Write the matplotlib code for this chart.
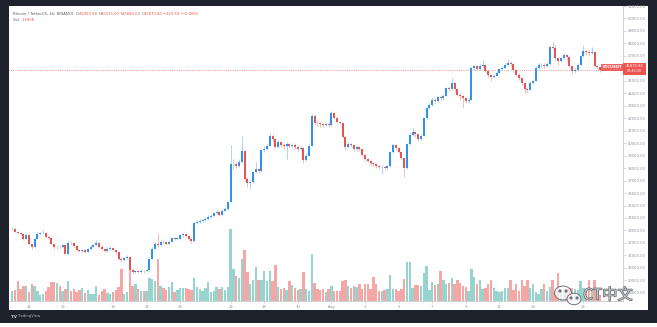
import matplotlib
matplotlib.use("Agg")
import matplotlib.pyplot as plt
from matplotlib.patches import Rectangle, Ellipse, Circle
import matplotlib.patheffects as pe
import numpy as np

# ---------------- data: BTC/USDT 4h candles, Jul 13 - Aug 17 ----------------
first_open = 33090
closes = [
    33120, 32900, 32800, 32700, 32350, 32650, 31900, 31650, 32350, 32750,
    32780, 32820, 32500, 32400, 31900, 31650, 31700, 31650, 31850, 31150,
    32000, 31980, 31750, 31450, 31350, 31400, 31300, 31500, 31700, 31850,
    32000, 31700, 31500, 31350, 31550, 31600, 31450, 31250, 30700, 30650,
    30800, 30900, 29850, 29650, 29750, 29700, 29780, 29720, 29800, 30750,
    31550, 31950, 31800, 32100, 32050, 31950, 32100, 32400, 32350, 32350,
    32600, 32700, 32550, 32350, 32150, 33600, 33700, 33750, 33800, 33950,
    34050, 34150, 34400, 34500, 34250, 34600, 34700, 35300, 38300, 38350,
    38200, 38500, 39350, 37150, 36800, 36900, 37650, 37900, 37750, 39450,
    39550, 39800, 40600, 40300, 39700, 40100, 39850, 39750, 39900, 39800,
    39850, 39700, 39550, 39650, 38650, 39000, 39800, 42200, 41650, 41600,
    41500, 41450, 41500, 41450, 42450, 42000, 41700, 41600, 40500, 39700,
    39950, 39850, 39500, 39700, 39500, 39050, 38700, 38600, 38400, 38300,
    38200, 38050, 38100, 38000, 38150, 39300, 39850, 39600, 39300, 38800,
    38000, 39900, 40650, 40900, 40700, 40300, 40600, 42000, 42800, 43100,
    43450, 43400, 43700, 43600, 43800, 44400, 44350, 44800, 44350, 43900,
    43750, 43600, 43400, 43500, 46000, 46150, 45950, 46200, 46300, 45800,
    45450, 45300, 45400, 45650, 45950, 46050, 46300, 46400, 46350, 45900,
    45500, 45200, 44850, 44350, 44300, 44850, 45000, 46050, 46250, 46300,
    46200, 46350, 47750, 47650, 46850, 46600, 46850, 47050, 46900, 46200,
    45800, 45900, 46300, 47000, 47400, 47300, 47200, 47350, 46200, 46093.58,
    45870.80,
]
highs = [
    33300, 33200, 32980, 32900, 32750, 32700, 32720, 31950, 32400, 32850,
    32900, 33000, 32850, 32600, 32450, 31950, 31850, 31800, 31950, 31900,
    32150, 32150, 32050, 31800, 31550, 31500, 31480, 31600, 31800, 31950,
    32200, 32050, 31800, 31600, 31650, 31750, 31650, 31500, 31300, 30850,
    30900, 31000, 30950, 29950, 29850, 29850, 29900, 29850, 29900, 30850,
    31650, 32050, 32800, 32250, 32200, 32150, 32250, 32500, 32500, 32450,
    32750, 32800, 32800, 32600, 32400, 33700, 33850, 33900, 33950, 34050,
    34200, 34300, 34500, 34650, 34550, 34700, 34850, 35400, 39860, 38700,
    38500, 38700, 40600, 39450, 37300, 37100, 37800, 38500, 38000, 39550,
    39750, 39950, 40850, 40750, 40400, 40250, 40200, 40000, 40100, 40050,
    40000, 40000, 39850, 39800, 39700, 39150, 39900, 42300, 42300, 41850,
    41700, 41600, 41650, 41700, 42600, 42500, 42100, 41800, 41650, 40550,
    40100, 40050, 39900, 39800, 39800, 39550, 39100, 38850, 38650, 38500,
    38400, 38250, 38250, 38200, 38250, 39400, 39950, 39900, 39650, 39350,
    38850, 40000, 40800, 41200, 41000, 40750, 40700, 42100, 42900, 43250,
    43600, 43650, 43800, 43900, 43950, 44500, 44600, 45230, 44850, 44400,
    44000, 43850, 43700, 43650, 46100, 46300, 46250, 46350, 46650, 46350,
    45850, 45550, 45550, 45750, 46050, 46200, 46400, 46750, 46550, 46400,
    45950, 45600, 45250, 44900, 44500, 44950, 45100, 46150, 46400, 46450,
    46400, 46500, 47850, 48150, 47900, 46950, 46950, 47200, 47150, 46950,
    46250, 46000, 46400, 47100, 47850, 47500, 47450, 47700, 47400, 46250,
    46115.00,
]
lows = [
    33000, 32850, 32700, 32600, 32250, 32300, 31800, 31550, 31600, 32300,
    32650, 32700, 32400, 32300, 31800, 31550, 31550, 31500, 31600, 31100,
    31100, 31850, 31650, 31350, 31250, 31250, 31200, 31250, 31450, 31650,
    31800, 31600, 31400, 31250, 31300, 31450, 31350, 31150, 30600, 30500,
    30550, 30700, 29700, 29500, 29550, 29550, 29600, 29550, 29650, 29750,
    30700, 31500, 31700, 31750, 31900, 31850, 31900, 32050, 32250, 32200,
    32300, 32500, 32450, 32250, 32000, 32100, 33500, 33600, 33650, 33750,
    33850, 34000, 34100, 34300, 34150, 34200, 34550, 34650, 35250, 37900,
    38000, 38100, 38400, 37000, 36500, 36350, 36800, 37600, 37600, 37700,
    39300, 39450, 39750, 40100, 39550, 39600, 39700, 39500, 38750, 39600,
    39650, 39550, 39400, 39400, 38400, 38550, 38950, 39750, 41500, 41400,
    41300, 41300, 41350, 41300, 41400, 41900, 41600, 41500, 40400, 39450,
    39600, 39700, 39400, 39400, 39350, 38950, 38600, 38450, 38200, 38150,
    38000, 37950, 37550, 37900, 37950, 38100, 39250, 39450, 39200, 38700,
    37300, 37950, 39850, 40600, 40500, 40200, 40250, 40550, 41950, 42700,
    43000, 43250, 43300, 43450, 43500, 43750, 44200, 44300, 44200, 43750,
    43500, 42850, 43200, 43250, 43450, 45850, 45800, 45900, 46100, 45700,
    45300, 45000, 45200, 45350, 45600, 45850, 46000, 46200, 46200, 45800,
    45400, 45100, 44700, 44050, 44100, 44250, 44750, 44950, 45950, 46100,
    46050, 46100, 46300, 47450, 46700, 46300, 46500, 46750, 46700, 46100,
    45550, 45600, 45800, 46250, 46950, 47100, 47000, 47150, 46100, 45950,
    45680.00,
]
volumes = [  # thousand BTC per 4h candle
    7.0, 7.7, 14.0, 8.4, 10.5, 10.5, 6.3, 11.9, 10.5, 7.0,
    4.2, 4.9, 7.0, 9.8, 13.3, 13.3, 12.6, 10.5, 7.0, 8.4,
    14.0, 7.0, 8.4, 6.3, 7.7, 9.1, 5.6, 7.7, 4.9, 4.9,
    10.5, 4.2, 7.0, 8.4, 5.6, 4.9, 6.3, 7.7, 9.8, 22.4,
    4.9, 6.3, 29.4, 10.5, 11.9, 8.4, 7.0, 7.0, 7.0, 16.1,
    15.4, 14.0, 29.4, 10.5, 9.1, 7.7, 9.8, 13.3, 6.3, 7.7,
    9.1, 9.1, 9.1, 8.4, 7.7, 16.1, 9.8, 8.4, 7.0, 9.1,
    13.3, 6.3, 7.0, 9.8, 8.4, 9.8, 7.7, 9.8, 50.4, 22.4,
    17.5, 16.1, 29.4, 35.7, 20.3, 11.9, 14.7, 23.8, 14.7, 14.7,
    21.0, 14.0, 21.0, 14.0, 25.2, 9.8, 8.4, 9.1, 7.7, 14.0,
    11.2, 9.1, 7.7, 8.4, 20.3, 8.4, 7.0, 32.9, 12.6, 8.4,
    7.7, 8.4, 6.3, 8.4, 10.5, 7.0, 7.0, 7.0, 14.0, 14.7,
    10.5, 9.1, 10.5, 9.8, 11.9, 8.4, 11.9, 11.9, 8.4, 16.8,
    11.9, 7.0, 7.0, 7.7, 8.4, 18.2, 8.4, 8.4, 7.0, 8.4,
    15.4, 27.3, 27.3, 9.1, 11.2, 11.2, 10.5, 19.6, 24.5, 7.7,
    13.3, 11.2, 11.9, 21.0, 14.7, 11.9, 12.6, 16.1, 11.9, 14.7,
    12.6, 10.5, 9.8, 7.0, 22.4, 16.8, 11.9, 14.7, 8.4, 9.1,
    11.9, 14.7, 9.1, 7.0, 6.3, 7.0, 9.1, 9.1, 14.7, 7.7,
    11.9, 7.0, 14.7, 10.5, 14.7, 9.1, 11.9, 6.3, 4.9, 8.4,
    11.9, 7.0, 9.8, 14.7, 7.0, 19.6, 8.4, 7.0, 8.4, 9.1,
    9.1, 8.4, 7.7, 14.0, 9.1, 8.4, 14.7, 7.7, 14.7, 7.7,
    4.2,
]
price_ticks = list(range(28000, 52000, 1000))
date_ticks = [6, 18, 36, 48, 60, 78, 90, 102, 114, 126, 138, 150, 162, 174, 186, 204]
date_labels = ["14", "16", "19", "21", "23", "26", "28", "30", "Aug",
               "3", "5", "7", "9", "11", "13", "16"]
last_price = 45870.80
countdown = "02:46:30"
symbol = "BTCUSDT"
legend_parts = [
    ("Bitcoin / TetherUS, 4h, BINANCE  ", "#5d606b"),
    ("O", "#5d606b"), ("46093.58 ", "#ef5350"),
    ("H", "#5d606b"), ("46115.00 ", "#ef5350"),
    ("L", "#5d606b"), ("45680.00 ", "#ef5350"),
    ("C", "#5d606b"), ("45870.80 ", "#ef5350"),
    ("\u2212222.59 (\u22120.48%)", "#ef5350"),
]
volume_parts = [("Vol  ", "#5d606b"), ("1.695K", "#ef5350")]

# ---------------- styling ----------------
W, H, DPI = 657, 327, 100
FRAME = "#1e222d"
UP, DOWN = "#3391ee", "#e85451"
UP_WICK, DOWN_WICK = "#8cc2f5", "#f2a3a1"
VUP, VDOWN = "#96d4cd", "#f5a7a5"
AXIS_TXT = "#8f929b"
SMALL = 2.7

def fx(px):
    return px / W

def fy(py):
    return 1 - py / H

fig = plt.figure(figsize=(W / DPI, H / DPI), dpi=DPI, facecolor=FRAME)

# white chart panel and the light strip under the dark footer
fig.patches.append(Rectangle((fx(9), fy(310)), fx(648) - fx(9), fy(6) - fy(310),
                             transform=fig.transFigure, facecolor="white",
                             edgecolor="none", zorder=0))
fig.patches.append(Rectangle((0, 0), 1, fy(322.5), transform=fig.transFigure,
                             facecolor="white", edgecolor="none", zorder=0))

# plotting area (pixel layout)
left_px, right_px, top_px, bottom_px = 9, 623, 6, 301
rect = [fx(left_px), fy(bottom_px), fx(right_px) - fx(left_px), fy(top_px) - fy(bottom_px)]
x0_px, step_px = 12.2, 2.8            # first candle centre and candle spacing
y_ref_px, p_ref, px_per_usd = 292.7, 28000, 0.012622

vax = fig.add_axes(rect, zorder=1)
ax = fig.add_axes(rect, zorder=2)
ax.patch.set_alpha(0)
vax.patch.set_alpha(0)

xlim = ((left_px - x0_px) / step_px, (right_px - x0_px) / step_px)
ylim = (p_ref + (y_ref_px - bottom_px) / px_per_usd, p_ref + (y_ref_px - top_px) / px_per_usd)

n = len(closes)
idx = np.arange(n)
c = np.array(closes, dtype=float)
o = np.concatenate([[first_open], c[:-1]])
hi = np.array(highs, dtype=float)
lo = np.array(lows, dtype=float)
up = c >= o

# volume bars
vol = np.array(volumes)
vax.bar(idx, vol, width=0.8, color=np.where(up, VUP, VDOWN), linewidth=0)
vax.set_xlim(*xlim)
vax.set_ylim(0, (bottom_px - top_px) * 0.7)
vax.axis("off")

# candles: pale wicks, solid bodies
ax.vlines(idx, lo, hi, colors=np.where(up, UP_WICK, DOWN_WICK), linewidth=0.5, zorder=3)
body_lo = np.minimum(o, c)
body_h = np.maximum(np.abs(c - o), 45)
ax.bar(idx, body_h, bottom=body_lo, width=0.68, color=np.where(up, UP, DOWN),
       linewidth=0, zorder=4)

ax.axhline(last_price, color="#ef5350", lw=0.5, ls=(0, (1, 1.6)), zorder=2)

ax.set_xlim(*xlim)
ax.set_ylim(*ylim)
for side in ("top", "left"):
    ax.spines[side].set_visible(False)
ax.spines["right"].set_color("#c9cbd1")
ax.spines["bottom"].set_color("#c9cbd1")
ax.spines["right"].set_linewidth(0.6)
ax.spines["bottom"].set_linewidth(0.6)
ax.yaxis.tick_right()
ax.set_yticks(price_ticks)
ax.set_yticklabels([f"{p:.2f}" for p in price_ticks])
ax.set_xticks(date_ticks)
ax.set_xticklabels(date_labels)
ax.tick_params(axis="y", colors="#c9cbd1", labelcolor=AXIS_TXT, labelsize=SMALL,
               length=2, width=0.5, pad=1.5)
ax.tick_params(axis="x", colors="#c9cbd1", labelcolor=AXIS_TXT, labelsize=SMALL,
               length=1.5, width=0.5, pad=1.2)

# legend line at the top left
renderer = fig.canvas.get_renderer()

def write_parts(parts, x_px, y_px):
    x = fx(x_px)
    for s, col in parts:
        t = fig.text(x, fy(y_px), s, color=col, fontsize=SMALL, va="center", ha="left")
        bb = t.get_window_extent(renderer=renderer)
        x += bb.width / (W * fig.dpi / DPI)

write_parts(legend_parts, 13, 14.3)
write_parts(volume_parts, 13, 20.3)

# symbol label and last price tag on the price scale
fig.text(fx(612.5), fy(67.2), symbol, color="white", fontsize=SMALL, ha="center",
         va="center", fontweight="bold",
         bbox=dict(boxstyle="square,pad=0.35", facecolor="#ef6461", edgecolor="none"))
fig.patches.append(Rectangle((fx(623), fy(75)), fx(646) - fx(623), fy(62.5) - fy(75),
                             transform=fig.transFigure, facecolor="#ef5350",
                             edgecolor="none", zorder=5))
fig.text(fx(634.5), fy(66), f"{last_price:.2f}", color="white", fontsize=SMALL,
         ha="center", va="center", zorder=6)
fig.text(fx(634.5), fy(71.3), countdown, color="white", fontsize=SMALL - 0.3,
         ha="center", va="center", zorder=6)

# footer logo
fig.text(fx(11), fy(316.5), "TV", color="#d1d4dc", fontsize=SMALL + 0.3,
         fontweight="bold", ha="left", va="center")
fig.text(fx(17.5), fy(316.5), "TradingView", color="#b2b5be", fontsize=SMALL,
         ha="left", va="center")

# channel watermark
wm = fig.add_axes([0, 0, 1, 1], zorder=7)
wm.set_xlim(0, W)
wm.set_ylim(H, 0)
wm.axis("off")
wm.patch.set_alpha(0)
wm.add_patch(Ellipse((563, 293), 17, 14, facecolor=(1, 1, 1, 0.7), edgecolor="#6f727a", lw=0.7))
wm.add_patch(Ellipse((574, 299), 14, 11.5, facecolor=(1, 1, 1, 0.8), edgecolor="#6f727a", lw=0.7))
for ex, ey in [(560, 291), (566, 291), (571, 298), (577, 298)]:
    wm.add_patch(Circle((ex, ey), 0.9, color="#6f727a"))
wm.text(608, 295, "CT中文", fontsize=11, color=(1, 1, 1, 0.6), ha="center", va="center",
        family=["Noto Sans CJK SC", "DejaVu Sans"],
        path_effects=[pe.withStroke(linewidth=0.9, foreground="#5f626a")])

fig.savefig("out.png", dpi=DPI, facecolor=FRAME)
